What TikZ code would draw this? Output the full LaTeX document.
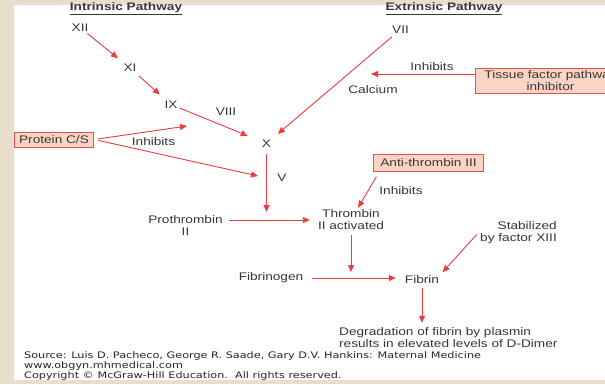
\documentclass[tikz,border=0pt]{standalone}
\usepackage{fontspec}
\setmainfont{Liberation Sans}[FakeStretch=1.24]
\newfontfamily\srcfont{DejaVu Sans}[FakeStretch=1.25]
\usetikzlibrary{arrows.meta}
\definecolor{paper}{RGB}{232,222,204}
\definecolor{flow}{RGB}{236,60,65}
\definecolor{boxfill}{RGB}{251,212,196}
\definecolor{boxline}{RGB}{230,80,80}
\definecolor{ink}{RGB}{55,55,55}

\begin{document}
\begin{tikzpicture}[x=1pt,y=-1pt,
    every node/.style={text=ink,inner sep=2pt,font=\fontsize{11}{12}\selectfont},
    inhbox/.style={draw=boxline,fill=boxfill,line width=0.8pt},
    flow/.style={draw=flow,line width=0.9pt,->},
    >={Triangle[length=7pt,width=6pt]}]
    \useasboundingbox (0,0) rectangle (605,384);
    \clip (0,0) rectangle (605,384);
    \fill[paper] (0,0) rectangle (605,384);
    \fill[white] (14,5) rectangle (605,380);

    % pathways
    \node (intr) at (126,9) {\bfseries\underline{Intrinsic Pathway}};
    \node (extr) at (444,9) {\bfseries\underline{Extrinsic Pathway}};

    \node (f12) at (80,27.5) {XII};
    \node (f11) at (130,68) {XI};
    \node (f9) at (171,104.5) {IX};
    \node (f8) at (226,112) {VIII};
    \node (f10) at (266.5,143.5) {X};
    \node (f5) at (282,177.5) {V};
    \node (f7) at (400.5,29.5) {VII};
    \node (calc) at (373,90) {Calcium};
    \node (inh1) at (432,66.5) {Inhibits};
    \node[inhbox,align=center,inner xsep=9pt,inner ysep=2.5pt] (tfpi) at (550.5,81) {Tissue factor pathway\\inhibitor};
    \node[inhbox,inner xsep=5pt,inner ysep=3.5pt] (pcs) at (54,139.5) {Protein C/S};
    \node (inh2) at (153.5,141.5) {Inhibits};

    % common pathway
    \node[align=center] (pro) at (185.5,226) {Prothrombin\\II};
    \node[align=center] (thr) at (351,220) {Thrombin\\II activated};
    \node[inhbox,inner xsep=6.5pt,inner ysep=4.5pt] (at3) at (428.5,162.5) {Anti-thrombin III};
    \node (inh3) at (401,191) {Inhibits};
    \node (fbg) at (271,278) {Fibrinogen};
    \node (fib) at (422,280) {Fibrin};
    \node[anchor=east,align=right] (stab) at (559,233) {Stabilized\\by factor XIII};
    \node[anchor=west,align=left] (deg) at (337,338) {Degradation of fibrin by plasmin\\results in elevated levels of D-Dimer};

    \node[anchor=west,align=left,text=black!85,font=\srcfont\fontsize{9}{10}\selectfont] (src) at (22,366.5)
        {Source: Luis D. Pacheco, George R. Saade, Gary D.V. Hankins: Maternal Medicine\\www.obgyn.mhmedical.com\\Copyright © McGraw-Hill Education.\ \ All rights reserved.};

    \coordinate (tfpiend) at (371,74);
    \coordinate (pcend) at (187,126);
    \coordinate (pcvend) at (258,176);

    \draw[flow,shorten >=6pt] (f12) -- (f11);
    \draw[flow,shorten <=3pt,shorten >=6pt] (f11) -- (f9);
    \draw[flow,shorten >=13pt] (f9) -- (f10);
    \draw[flow,shorten <=2pt,shorten >=6pt] (f7) -- (f10);
    \draw[flow] (tfpi.west |- tfpiend) -- (tfpiend);
    \draw[flow,shorten <=4pt] (pcs.east) -- (pcend);
    \draw[flow,shorten <=4pt] (pcs.east) -- (pcvend);
    \draw[flow,shorten <=5pt,shorten >=8pt] (f10) -- (f10 |- thr);
    \draw[flow,shorten <=4pt,shorten >=6pt] (pro.east |- thr.west) -- (thr.west);
    \draw[flow,shorten <=6pt] ([xshift=6pt]at3.south west) -- (thr.60);
    \draw[flow,shorten <=3pt,shorten >=6pt] (thr) -- (thr |- fbg);
    \draw[flow,shorten <=7pt,shorten >=7pt] (fbg) -- (fib.west |- fbg);
    \draw[flow,shorten <=2pt,shorten >=2pt] (stab.west) -- (fib.north east);
    \draw[flow,shorten <=2pt,shorten >=3pt] (fib) -- (fib |- deg.north);
\end{tikzpicture}
\end{document}
